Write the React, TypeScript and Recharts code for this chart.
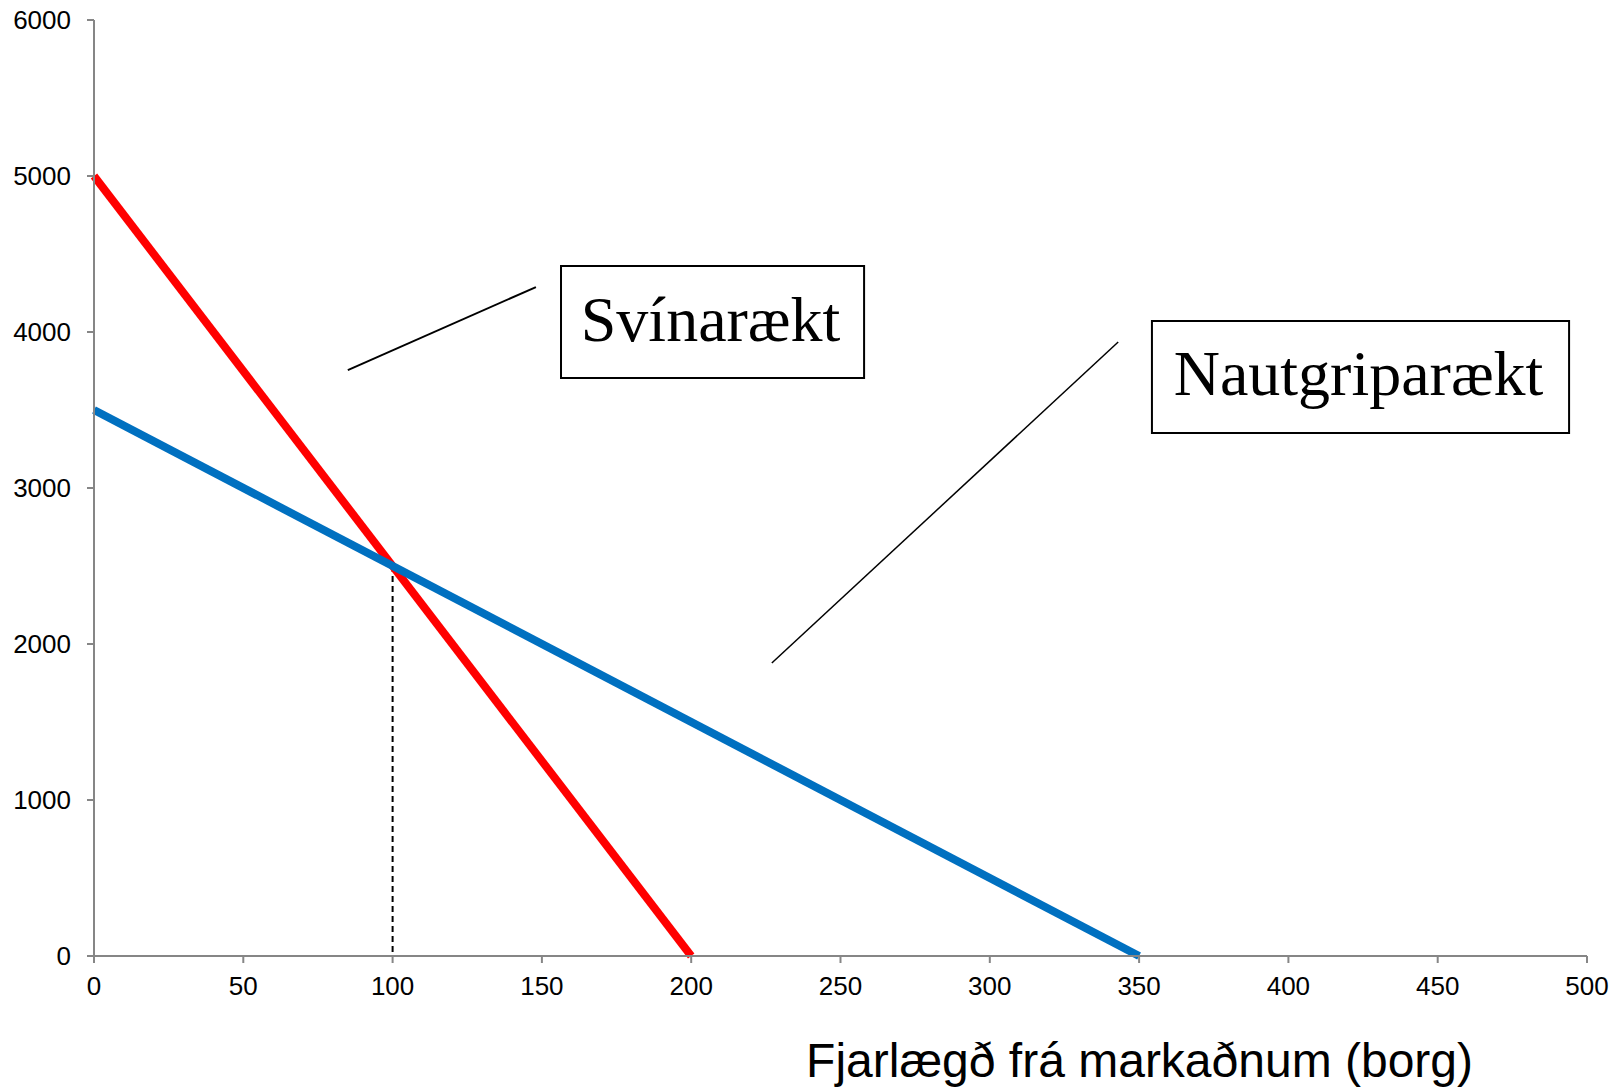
import { LineChart, Line, XAxis, YAxis, ReferenceLine, ReferenceArea, Label } from "recharts";

// distance from the market (x) and land rent (y)
const pigX = [0, 200];
const pigY = [5000, 0];
const cattleX = [0, 350];
const cattleY = [3500, 0];

const xTicks = [0, 50, 100, 150, 200, 250, 300, 350, 400, 450, 500];
const yTicks = [0, 1000, 2000, 3000, 4000, 5000, 6000];

const crossX = 100;
const crossY = 2500;

const pigData = pigX.map((x, i) => ({ x, y: pigY[i] }));
const cattleData = cattleX.map((x, i) => ({ x, y: cattleY[i] }));

const axisColor = "#868686";
const sans = "'Liberation Sans', Arial, sans-serif";
const serif = "'Liberation Serif', 'Times New Roman', serif";

export default function App() {
  return (
    <div style={{ position: "absolute", left: 0, top: 0, width: 1619, height: 1088, background: "#fff" }}>
      <LineChart width={1619} height={1088} margin={{ top: 20, right: 32, bottom: 0, left: 0 }}>
        <XAxis
          dataKey="x"
          type="number"
          domain={[0, 500]}
          ticks={xTicks}
          interval={0}
          stroke={axisColor}
          strokeWidth={2}
          tickSize={7}
          tickMargin={14}
          height={132}
          tick={{ fill: "#000", fontSize: 26, fontFamily: sans }}
        >
          <Label
            value="Fjarlægð frá markaðnum (borg)"
            position="insideBottomRight"
            offset={0}
            dx={-114}
            dy={-11}
            style={{ fill: "#000", fontSize: 48, fontFamily: sans }}
          />
        </XAxis>
        <YAxis
          type="number"
          domain={[0, 6000]}
          ticks={yTicks}
          interval={0}
          width={94}
          stroke={axisColor}
          strokeWidth={2}
          tickSize={7}
          tickMargin={16}
          tick={{ fill: "#000", fontSize: 26, fontFamily: sans }}
        />
        <ReferenceLine
          segment={[{ x: crossX, y: crossY }, { x: crossX, y: 0 }]}
          stroke="#000"
          strokeWidth={2}
          strokeDasharray="6 4"
        />
        <ReferenceLine segment={[{ x: 85, y: 3756 }, { x: 148, y: 4288 }]} stroke="#000" strokeWidth={2} />
        <ReferenceLine segment={[{ x: 227, y: 1878 }, { x: 343, y: 3936 }]} stroke="#000" strokeWidth={1.5} />
        <Line data={pigData} dataKey="y" stroke="#ff0000" strokeWidth={8} dot={false} isAnimationActive={false} />
        <Line data={cattleData} dataKey="y" stroke="#0070c0" strokeWidth={8} dot={false} isAnimationActive={false} />
        <ReferenceArea
          x1={156.4}
          x2={257.9}
          y1={3705}
          y2={4423}
          fill="#fff"
          fillOpacity={1}
          stroke="#000"
          strokeWidth={2}
        >
          <Label value="Svínarækt" position="center" dy={-4} dx={-2} style={{ fill: "#000", fontSize: 64, fontFamily: serif }} />
        </ReferenceArea>
        <ReferenceArea
          x1={354.3}
          x2={494}
          y1={3353}
          y2={4071}
          fill="#fff"
          fillOpacity={1}
          stroke="#000"
          strokeWidth={2}
        >
          <Label value="Nautgriparækt" position="center" dy={-5} dx={-2} style={{ fill: "#000", fontSize: 64, fontFamily: serif }} />
        </ReferenceArea>
      </LineChart>
    </div>
  );
}
